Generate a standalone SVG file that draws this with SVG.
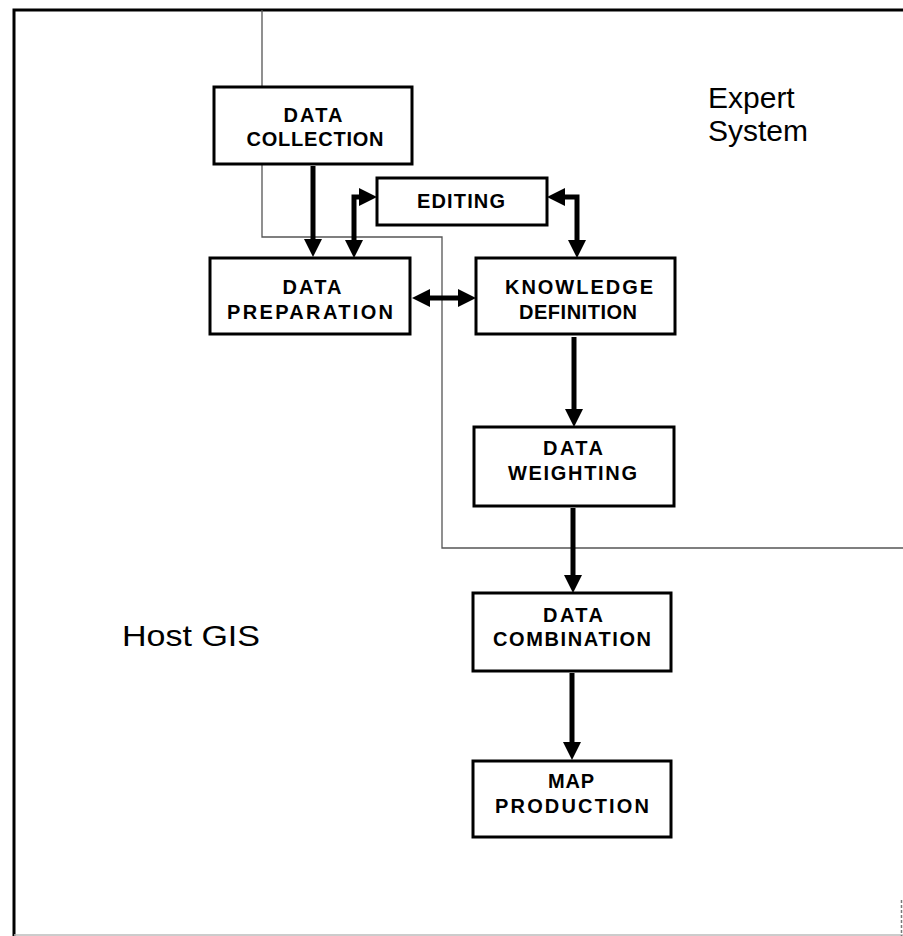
<svg xmlns="http://www.w3.org/2000/svg" width="903" height="936" viewBox="0 0 903 936">
  <style>
    .box { fill: #fff; stroke: #000; stroke-width: 3; }
    .lbl { font-family: "Liberation Sans", Arial, sans-serif; font-weight: bold; font-size: 20px; fill: #000; text-anchor: middle; }
    .area { font-family: "Liberation Sans", Arial, sans-serif; font-size: 30px; fill: #000; }
    .flow { fill: none; stroke: #000; stroke-width: 5; }
    .frame { fill: none; stroke: #000; stroke-width: 3; }
    .zone { fill: none; stroke: #555; stroke-width: 1.3; }
  </style>
  <defs>
    <marker id="head" markerUnits="userSpaceOnUse" viewBox="0 0 18 18" refX="0" refY="9" markerWidth="18" markerHeight="18" orient="auto-start-reverse">
      <path d="M0,0 L18,9 L0,18 Z" fill="#000"/>
    </marker>
  </defs>

  <rect width="903" height="936" fill="#fff"/>

  <!-- outer frame -->
  <g id="frame">
    <path class="frame" d="M14,936 V10 H903"/>
    <path d="M14,935 H903" stroke="#bbb" stroke-width="1.5" fill="none"/>
    <path d="M901.5,900 V936" stroke="#777" stroke-width="1.5" stroke-dasharray="3 2" fill="none"/>
  </g>

  <!-- expert system boundary -->
  <g id="expert-boundary">
    <path class="zone" d="M262,10 V237 H442 V548 H903"/>
  </g>

  <g id="labels">
    <text class="area" x="708" y="108">Expert</text>
    <text class="area" x="708" y="141">System</text>
    <text class="area" x="122" y="646" textLength="138" lengthAdjust="spacingAndGlyphs">Host GIS</text>
  </g>

  <!-- connectors -->
  <g id="connectors">
    <path class="flow" d="M313,166 V239" marker-end="url(#head)"/>
    <path class="flow" d="M354,240 V197 H359" marker-start="url(#head)" marker-end="url(#head)"/>
    <path class="flow" d="M565,197 H577 V240" marker-start="url(#head)" marker-end="url(#head)"/>
    <path class="flow" d="M430,298 H458" marker-start="url(#head)" marker-end="url(#head)"/>
    <path class="flow" d="M574,337 V409" marker-end="url(#head)"/>
    <path class="flow" d="M573,508 V575" marker-end="url(#head)"/>
    <path class="flow" d="M572,673 V742" marker-end="url(#head)"/>
  </g>

  <g id="data-collection">
    <rect class="box" x="214" y="87" width="198" height="77"/>
    <text class="lbl" x="313" y="122" textLength="59" lengthAdjust="spacing">DATA</text>
    <text class="lbl" x="315" y="146" textLength="137" lengthAdjust="spacing">COLLECTION</text>
  </g>

  <g id="editing">
    <rect class="box" x="377" y="178" width="170" height="47"/>
    <text class="lbl" x="461" y="208" textLength="88" lengthAdjust="spacing">EDITING</text>
  </g>

  <g id="data-preparation">
    <rect class="box" x="210" y="258" width="200" height="76"/>
    <text class="lbl" x="312" y="294" textLength="59" lengthAdjust="spacing">DATA</text>
    <text class="lbl" x="310" y="319" textLength="166" lengthAdjust="spacing">PREPARATION</text>
  </g>

  <g id="knowledge-definition">
    <rect class="box" x="476" y="258" width="199" height="76"/>
    <text class="lbl" x="579" y="294" textLength="148" lengthAdjust="spacing">KNOWLEDGE</text>
    <text class="lbl" x="578" y="319" textLength="118" lengthAdjust="spacing">DEFINITION</text>
  </g>

  <g id="data-weighting">
    <rect class="box" x="474" y="427" width="200" height="79"/>
    <text class="lbl" x="573" y="455" textLength="60" lengthAdjust="spacing">DATA</text>
    <text class="lbl" x="572.5" y="480" textLength="129" lengthAdjust="spacing">WEIGHTING</text>
  </g>

  <g id="data-combination">
    <rect class="box" x="473" y="593" width="198" height="78"/>
    <text class="lbl" x="573" y="622" textLength="60" lengthAdjust="spacing">DATA</text>
    <text class="lbl" x="572" y="646" textLength="158" lengthAdjust="spacing">COMBINATION</text>
  </g>

  <g id="map-production">
    <rect class="box" x="473" y="761" width="198" height="76"/>
    <text class="lbl" x="571" y="788" textLength="46" lengthAdjust="spacing">MAP</text>
    <text class="lbl" x="572" y="813" textLength="154" lengthAdjust="spacing">PRODUCTION</text>
  </g>
</svg>
